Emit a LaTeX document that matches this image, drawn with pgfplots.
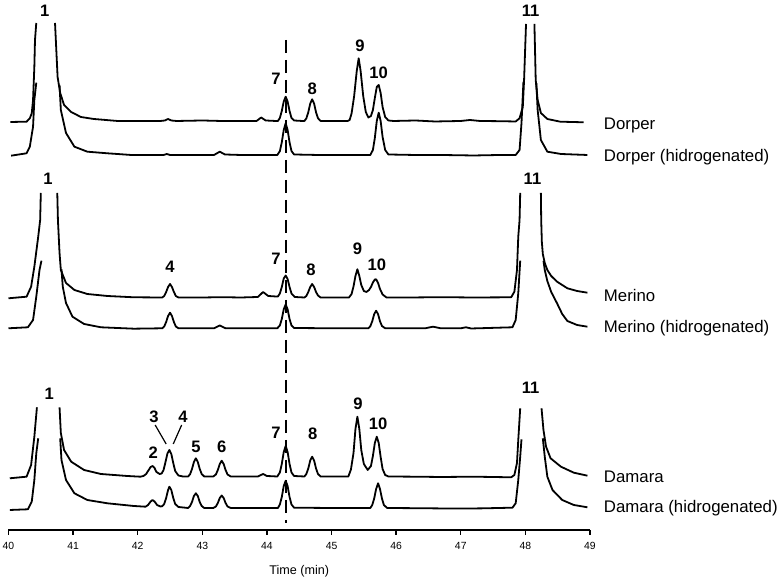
\documentclass[border=0pt]{standalone}
\usepackage{fontspec}
\setmainfont{Liberation Sans}
\usepackage{pgfplots}
\pgfplotsset{compat=1.18}

% heights are in picture units (1 unit = 0.5pt), each trace sits on its own baseline
\pgfplotsset{
  trace/.style={black, line width=0.9pt, line join=round, mark=none},
}
\tikzset{
  pk/.style={font=\bfseries\fontsize{8.3}{9}\selectfont, inner sep=0pt},
  lab/.style={anchor=west, font=\fontsize{8.4}{10}\selectfont, inner sep=0pt},
}

\begin{document}
\begin{tikzpicture}
\begin{axis}[
  scale only axis, width=290.75pt, height=265pt,
  xmin=40, xmax=49, ymin=2, ymax=532,
  axis x line=bottom, axis y line=none,
  axis line style={-, line width=0.7pt},
  xtick={40,41,...,49}, ytick=\empty,
  tick align=outside, major tick length=2.5pt,
  tick style={black, line width=0.7pt},
  /pgf/number format/assume math mode=true,
  x tick label style={font=\fontsize{5.2}{6}\selectfont},
  xlabel={Time (min)},
  xlabel style={font=\fontsize{6.3}{7}\selectfont, yshift=-1pt},
  unbounded coords=jump,
  clip=false,
]

% Dorper
\addplot[trace] coordinates {
(40.03,410) (40.28,410.3) (40.33,413.7) (40.36,418.7) (40.38,432) (40.40,465) (40.41,492) (40.43,509)
(40.58,nan)
(40.72,509) (40.74,482) (40.76,455) (40.80,439) (40.86,427) (40.97,420) (41.12,415) (41.32,413) (41.69,411)
(42.00,411) (42.35,411) (42.42,411.5) (42.47,413) (42.52,411.5) (42.60,411) (43.00,411.5) (43.30,411) (43.60,411)
(43.84,411) (43.91,414.5) (43.98,411.5) (44.14,411)
(44.17,411) (44.20,414) (44.23,421) (44.26,430.5) (44.29,435.3) (44.32,430.5) (44.35,421) (44.38,414) (44.42,411.5) (44.55,411)
(44.58,411) (44.61,413.6) (44.64,419.7) (44.67,428.4) (44.70,432.7) (44.73,428.4) (44.76,419.7) (44.79,413.8) (44.83,411) (45.00,411) (45.25,411)
(45.28,412) (45.31,418.5) (45.35,436) (45.39,461) (45.42,473.7) (45.45,461) (45.49,436) (45.53,420) (45.57,414.5)
(45.61,416) (45.64,422) (45.67,434) (45.70,445) (45.73,447) (45.76,439) (45.79,425) (45.83,415) (45.88,411.5) (45.96,411)
(46.30,411.5) (46.60,410.5) (47.00,411) (47.14,412) (47.30,411) (47.60,410.8) (47.85,410.5)
(47.91,413.7) (47.96,425) (47.98,452) (47.995,480) (48.01,508)
(48.07,nan)
(48.14,508) (48.16,452) (48.19,432) (48.24,419) (48.34,413) (48.54,410.3) (48.90,409.7)
};

% Dorper (hidrogenated)
\addplot[trace] coordinates {
(40.04,376.3) (40.28,378.7) (40.33,385.3) (40.38,405.3) (40.40,432) (40.43,449.3)
(40.6,nan)
(40.79,447) (40.81,422) (40.89,399) (41.02,385.3) (41.22,380.3) (41.53,378.7) (41.90,377) (42.20,377) (42.40,377)
(42.45,378) (42.50,377) (42.80,377) (43.18,377) (43.27,380.3) (43.35,377.5) (43.60,377) (43.90,377) (44.16,377)
(44.20,380.8) (44.23,389.7) (44.26,402) (44.29,408.7) (44.32,402) (44.35,389.7) (44.38,381) (44.42,377.5) (44.80,377) (45.20,377) (45.60,377)
(45.64,382) (45.67,394) (45.70,411) (45.73,419.3) (45.76,411) (45.79,395) (45.83,382) (45.88,377.5)
(46.30,377) (46.70,377) (47.20,376.5) (47.60,377) (47.85,377)
(47.91,382) (47.94,409) (47.97,450.3)
(48.07,nan)
(48.17,448.7) (48.19,422) (48.24,392) (48.34,380.3) (48.55,378) (48.96,377)
};

% Merino
\addplot[trace] coordinates {
(40.00,233.7) (40.28,235.3) (40.35,245.3) (40.40,265.3) (40.46,295.3) (40.49,312) (40.50,339)
(40.6,nan)
(40.755,339) (40.765,312) (40.79,279) (40.81,262) (40.89,249) (41.02,242) (41.22,238) (41.53,236) (41.94,234.7) (42.38,234.5)
(42.41,236) (42.44,240) (42.47,245) (42.50,248) (42.53,245) (42.56,240) (42.59,236) (42.63,234.5)
(43.00,234.5) (43.30,234.8) (43.60,234.5) (43.86,235) (43.94,240) (44.02,236) (44.14,235.5)
(44.17,235.5) (44.20,238.5) (44.23,245) (44.26,253.5) (44.29,256.5) (44.32,253) (44.35,245) (44.38,238.5) (44.43,235)
(44.58,234.5) (44.61,236) (44.64,240) (44.67,245) (44.70,248) (44.73,245) (44.76,240) (44.79,236.5) (44.83,234.5) (45.27,234.5)
(45.31,238) (45.34,245.5) (45.37,256) (45.40,262.7) (45.43,256) (45.46,247) (45.50,241) (45.54,240)
(45.58,242) (45.61,245) (45.64,249.5) (45.67,252.5) (45.69,252.7) (45.72,249) (45.75,243) (45.79,237.5) (45.85,234.5)
(46.20,234.5) (46.70,234.8) (47.20,234.5) (47.78,234.7)
(47.83,240.3) (47.87,262) (47.89,295.3) (47.91,312) (47.92,339)
(48.1,nan)
(48.24,339) (48.245,312) (48.255,290) (48.27,278) (48.30,269) (48.34,262) (48.40,256) (48.49,250.3) (48.65,243.7) (48.80,241) (48.96,239.3)
};

% Merino (hidrogenated)
\addplot[trace] coordinates {
(40.00,203.7) (40.30,204.7) (40.38,212) (40.43,235.3) (40.48,262) (40.51,271.3)
(40.65,nan)
(40.82,262.7) (40.84,245.3) (40.89,229) (40.99,215.3) (41.17,208) (41.43,204.7) (41.94,203.3) (42.38,203.7)
(42.41,205.5) (42.44,210) (42.47,216) (42.50,219.3) (42.53,216) (42.56,210) (42.59,205.5) (42.63,203.7)
(43.18,203.7) (43.27,206.5) (43.36,203.7) (43.80,203.7) (44.16,203.7)
(44.20,206.5) (44.23,213) (44.26,222.7) (44.29,227.5) (44.32,222.7) (44.35,213) (44.38,206.5) (44.42,204) (45.00,203.7) (45.57,203.7)
(45.60,205.8) (45.63,210.7) (45.66,217.8) (45.69,221.3) (45.72,217.8) (45.75,210.7) (45.78,206) (45.83,203.7)
(46.45,203.7) (46.57,205.3) (46.69,203.7) (47.00,203.7) (47.08,204.7) (47.16,203.5) (47.80,204.7)
(47.85,212) (47.89,238.7) (47.92,271.3)
(48.1,nan)
(48.28,271.3) (48.30,262) (48.34,251) (48.40,240) (48.49,228.7) (48.57,218) (48.65,211) (48.80,207) (48.96,205.3)
};

% Damara
\addplot[trace] coordinates {
(40.02,53.7) (40.28,55.3) (40.35,67) (40.40,95.3) (40.44,124.7)
(40.6,nan)
(40.79,124.7) (40.81,99) (40.86,82) (40.97,70.3) (41.17,62) (41.43,58) (41.84,56) (42.04,55.3) (42.09,56)
(42.13,58) (42.17,62) (42.20,65) (42.23,66) (42.26,64) (42.29,60) (42.34,58)
(42.37,58.5) (42.40,62) (42.43,70) (42.46,78.5) (42.49,82) (42.52,78) (42.55,69) (42.58,61) (42.63,56.5) (42.70,55.5) (42.78,55.5)
(42.81,57.7) (42.84,63) (42.87,70) (42.90,73.7) (42.93,70) (42.96,63) (42.99,58) (43.03,55.5) (43.17,55.5)
(43.21,57.5) (43.24,62) (43.27,68) (43.30,71.3) (43.33,68) (43.36,62) (43.39,57.5) (43.44,55.5)
(43.86,55.5) (43.94,58) (44.00,56) (44.16,55.5)
(44.20,59.5) (44.23,68) (44.26,80) (44.29,86) (44.32,80) (44.35,68) (44.38,59.5) (44.42,56) (44.58,55.5)
(44.61,58) (44.64,63.5) (44.67,71.5) (44.70,75.3) (44.73,71.5) (44.76,63.5) (44.79,58) (44.83,55.5) (45.26,55.5)
(45.30,62.5) (45.34,79) (45.37,103) (45.40,115.3) (45.43,103) (45.46,82) (45.50,68) (45.56,62)
(45.61,66) (45.64,76) (45.67,89) (45.70,95.3) (45.73,89) (45.76,75) (45.79,63) (45.83,57) (45.88,55.5)
(46.30,55.3) (46.70,55) (47.20,55.3) (47.78,54.7)
(47.83,57) (47.87,69) (47.89,92) (47.92,123.7)
(48.1,nan)
(48.25,123.7) (48.28,102) (48.32,85.3) (48.39,73.7) (48.55,65.3) (48.75,59.3) (48.96,56.3)
};

% Damara (hidrogenated)
\addplot[trace] coordinates {
(40.02,22) (40.30,22.7) (40.36,30.3) (40.40,52) (40.43,78.7) (40.46,93.7)
(40.6,nan)
(40.80,93.7) (40.82,72) (40.89,52) (41.02,38.7) (41.22,32) (41.53,28.7) (41.94,26) (42.12,25.3)
(42.16,27) (42.20,30.5) (42.23,32) (42.26,30.5) (42.30,27) (42.35,25.5)
(42.38,25.8) (42.41,28) (42.44,34) (42.47,42) (42.49,45.3) (42.52,42) (42.55,34) (42.58,28) (42.63,25) (42.78,24)
(42.81,26) (42.84,30) (42.87,36) (42.90,38.7) (42.93,36) (42.96,30) (42.99,26) (43.03,24) (43.17,24)
(43.21,25.5) (43.24,29) (43.27,34) (43.30,36.5) (43.33,34) (43.36,29) (43.39,25.5) (43.44,24) (43.80,24) (44.17,24)
(44.20,27.5) (44.23,35) (44.26,46) (44.29,51.3) (44.32,46) (44.35,35) (44.38,27.5) (44.42,24.3) (45.00,24) (45.60,24)
(45.63,27) (45.66,33.5) (45.69,43) (45.72,48.7) (45.75,43) (45.78,33.5) (45.81,27) (45.86,24)
(46.30,23.8) (46.80,23.5) (47.30,23.6) (47.80,24.3)
(47.85,28.7) (47.89,52) (47.92,75.3) (47.94,92.7)
(48.1,nan)
(48.27,93.7) (48.30,75.3) (48.34,55.3) (48.42,42) (48.57,32) (48.75,27) (48.96,24.7)
};

% reference line at 44.3 min
\addplot[black, line width=0.85pt, dash pattern=on 6.5pt off 3.5pt] coordinates {(44.3,492) (44.3,9)};

% leader lines for peaks 3 and 4
\addplot[black, line width=0.6pt] coordinates {(42.27,107) (42.44,88)};
\addplot[black, line width=0.6pt] coordinates {(42.68,107) (42.55,88)};

% peak numbers
\node[pk] at (axis cs:40.56,521.3) {1};
\node[pk] at (axis cs:48.08,521.3) {11};
\node[pk] at (axis cs:44.14,452.7) {7};
\node[pk] at (axis cs:44.70,442.7) {8};
\node[pk] at (axis cs:45.44,486) {9};
\node[pk] at (axis cs:45.73,459.3) {10};

\node[pk] at (axis cs:40.61,353) {1};
\node[pk] at (axis cs:48.11,353) {11};
\node[pk] at (axis cs:42.50,264.7) {4};
\node[pk] at (axis cs:44.14,272.7) {7};
\node[pk] at (axis cs:44.68,262.7) {8};
\node[pk] at (axis cs:45.40,283.7) {9};
\node[pk] at (axis cs:45.70,267) {10};

\node[pk] at (axis cs:40.63,138) {1};
\node[pk] at (axis cs:48.08,143.7) {11};
\node[pk] at (axis cs:42.25,115.3) {3};
\node[pk] at (axis cs:42.70,115.3) {4};
\node[pk] at (axis cs:42.24,79.3) {2};
\node[pk] at (axis cs:42.90,85.3) {5};
\node[pk] at (axis cs:43.30,85.3) {6};
\node[pk] at (axis cs:44.14,99.3) {7};
\node[pk] at (axis cs:44.71,98) {8};
\node[pk] at (axis cs:45.41,128) {9};
\node[pk] at (axis cs:45.72,108.7) {10};

% trace names
\node[lab] at (axis cs:49.21,407) {Dorper};
\node[lab] at (axis cs:49.21,375.3) {Dorper (hidrogenated)};
\node[lab] at (axis cs:49.21,236) {Merino};
\node[lab] at (axis cs:49.21,203.7) {Merino (hidrogenated)};
\node[lab] at (axis cs:49.21,55.3) {Damara};
\node[lab] at (axis cs:49.21,24.3) {Damara (hidrogenated)};
\end{axis}
\pgfresetboundingbox
\path (current axis.south west) ++(-4.25pt,-25.5pt) rectangle ++(390.5pt,290.5pt);
\end{tikzpicture}
\end{document}
